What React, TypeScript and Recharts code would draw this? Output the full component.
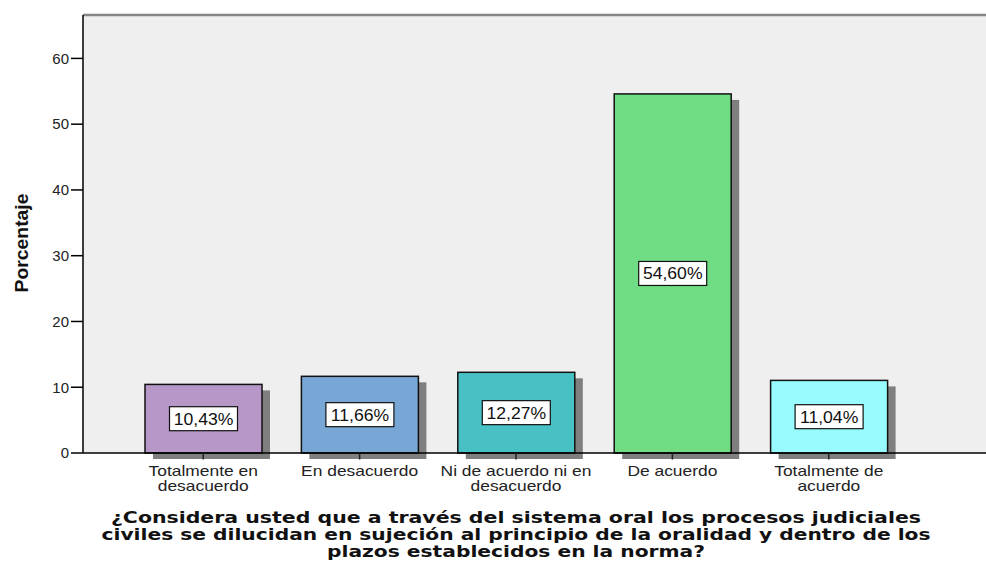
import React from "react";
import { BarChart, Bar, XAxis, YAxis, CartesianGrid, Cell, ReferenceLine } from "recharts";

const categories = [
  "Totalmente en desacuerdo",
  "En desacuerdo",
  "Ni de acuerdo ni en desacuerdo",
  "De acuerdo",
  "Totalmente de acuerdo",
];
const tickLines = [
  ["Totalmente en", "desacuerdo"],
  ["En desacuerdo"],
  ["Ni de acuerdo ni en", "desacuerdo"],
  ["De acuerdo"],
  ["Totalmente de", "acuerdo"],
];
const values = [10.43, 11.66, 12.27, 54.6, 11.04];
const valueLabels = ["10,43%", "11,66%", "12,27%", "54,60%", "11,04%"];
const barColors = ["#b797c8", "#78a7d6", "#48c1c5", "#70dd84", "#98fcfe"];
const yTicks = [0, 10, 20, 30, 40, 50, 60];
const yMax = 66.6;
const yLabel = "Porcentaje";
const titleLines = [
  "¿Considera usted que a través del sistema oral los procesos judiciales",
  "civiles se dilucidan en sujeción al principio de la oralidad y dentro de los",
  "plazos establecidos en la norma?",
];

const data = categories.map((c, i) => ({ name: c, value: values[i], label: valueLabels[i] }));

const FONT = "'Liberation Sans', Arial, sans-serif";
const BAR_SIZE = 117;
const SHADOW_DX = 8;
const SHADOW_DY = 6;
const SHADOW = "#7f7f7f";

const BarShape = (props: any) => {
  const { x, y, width, height, fill, payload } = props;
  const cx = x + width / 2;
  const cy = y + height / 2;
  return (
    <g>
      <rect x={x + SHADOW_DX} y={y + SHADOW_DY} width={width} height={height} fill={SHADOW} />
      <rect x={x} y={y} width={width} height={height} fill={fill} stroke="#111" strokeWidth={1.5} />
      <rect x={cx - 34} y={cy - 12} width={68} height={24} fill="#fff" stroke="#111" strokeWidth={1.2} />
      <text
        transform={`translate(${cx},${cy + 6}) scale(1.1,1)`}
        textAnchor="middle"
        fontFamily={FONT}
        fontSize={16}
        fill="#111"
      >
        {payload.label}
      </text>
    </g>
  );
};

const TICK_SIZE = 5;

const XTick = (props: any) => {
  const { x, y, payload } = props;
  const idx = categories.indexOf(payload.value);
  const lines = idx >= 0 ? tickLines[idx] : [String(payload.value)];
  const axisY = y - TICK_SIZE;
  return (
    <g>
      <line x1={x} x2={x} y1={axisY} y2={axisY + TICK_SIZE + 1.5} stroke="#222" strokeWidth={1.5} />
      {lines.map((l: string, i: number) => (
        <text
          key={i}
          transform={`translate(${x},${y + 18 + i * 15}) scale(1.16,1)`}
          textAnchor="middle"
          fontFamily={FONT}
          fontSize={15}
          fill="#222"
        >
          {l}
        </text>
      ))}
    </g>
  );
};

export default function App() {
  return (
    <div style={{ position: "absolute", left: 0, top: 0, width: 986, height: 564, background: "#fff" }}>
      <BarChart width={986} height={564} data={data} margin={{ top: 15, right: 0, bottom: 0, left: 0 }}>
        <CartesianGrid horizontal={false} vertical={false} fill="#efefef" />
        <XAxis
          dataKey="name"
          interval={0}
          height={111}
          padding={{ left: 42, right: 79 }}
          axisLine={{ stroke: "#000", strokeWidth: 1.5 }}
          tickLine={false}
          tickSize={TICK_SIZE}
          tickMargin={0}
          tick={<XTick />}
        />
        <YAxis
          width={83}
          domain={[0, yMax]}
          ticks={yTicks}
          axisLine={{ stroke: "#000", strokeWidth: 1.5 }}
          tickLine={{ stroke: "#000", strokeWidth: 1.5 }}
          tickSize={12}
          tickMargin={2}
          tick={{ fill: "#222", fontSize: 15, fontFamily: FONT }}
        />
        <ReferenceLine y={yMax} stroke="#858585" strokeWidth={2.5} />
        <Bar dataKey="value" barSize={BAR_SIZE} isAnimationActive={false} shape={<BarShape />}>
          {data.map((d, i) => (
            <Cell key={d.name} fill={barColors[i]} />
          ))}
        </Bar>
      </BarChart>
      <svg
        width={986}
        height={564}
        style={{ position: "absolute", left: 0, top: 0, pointerEvents: "none" }}
      >
        <text
          transform="translate(28,243) rotate(-90)"
          textAnchor="middle"
          fontFamily={FONT}
          fontWeight="bold"
          fontSize={18}
          textLength={99}
          lengthAdjust="spacingAndGlyphs"
          fill="#111"
        >
          {yLabel}
        </text>
        {titleLines.map((t, i) => (
          <text
            key={i}
            x={516}
            y={523 + i * 17}
            textAnchor="middle"
            fontFamily="'DejaVu Sans', sans-serif"
            fontWeight="bold"
            fontSize={16}
            textLength={[810, 829, 378][i]}
            lengthAdjust="spacingAndGlyphs"
            fill="#111"
          >
            {t}
          </text>
        ))}
      </svg>
    </div>
  );
}
